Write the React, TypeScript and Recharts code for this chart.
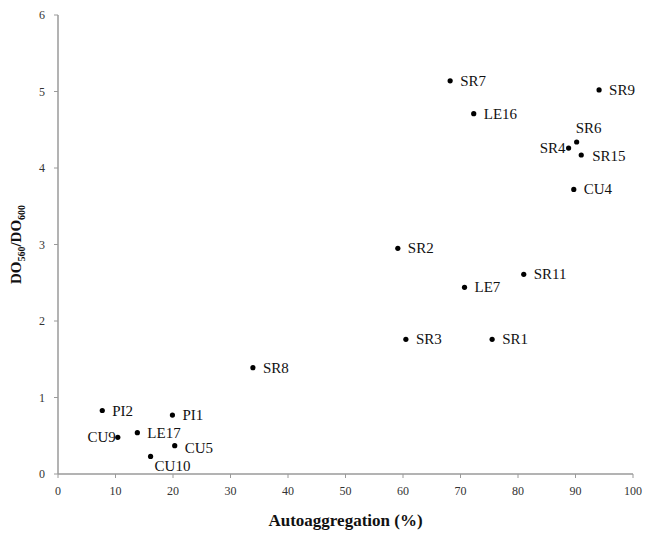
import { Label, LabelList, Scatter, ScatterChart, XAxis, YAxis } from 'recharts';

// isolates
const strains = ['SR7', 'SR9', 'LE16', 'SR6', 'SR4', 'SR15', 'CU4', 'SR2', 'SR11', 'LE7', 'SR3', 'SR1', 'SR8', 'PI2', 'PI1', 'CU9', 'LE17', 'CU5', 'CU10'];
const autoaggregation = [68.2, 94.1, 72.3, 90.2, 88.8, 91.0, 89.7, 59.1, 81.0, 70.7, 60.5, 75.5, 33.9, 7.7, 19.9, 10.4, 13.8, 20.3, 16.1];
const ratio = [5.14, 5.02, 4.71, 4.34, 4.26, 4.17, 3.72, 2.95, 2.61, 2.44, 1.76, 1.76, 1.39, 0.83, 0.77, 0.48, 0.54, 0.37, 0.23];

const xTicks = [0, 10, 20, 30, 40, 50, 60, 70, 80, 90, 100];
const yTicks = [0, 1, 2, 3, 4, 5, 6];

const data = strains.map((name, i) => ({ name, x: autoaggregation[i], y: ratio[i] }));

// where each label sits relative to its dot
const placement: Record<string, { dx: number; dy: number; anchor: 'start' | 'end' }> = {
  SR6: { dx: -1, dy: -14, anchor: 'start' },
  SR4: { dx: -3, dy: 0, anchor: 'end' },
  CU9: { dx: -2, dy: 0, anchor: 'end' },
  CU10: { dx: 4, dy: 10, anchor: 'start' },
  CU5: { dx: 10, dy: 2, anchor: 'start' },
  SR15: { dx: 11, dy: 1, anchor: 'start' },
};

const serif = "'Liberation Serif', 'Times New Roman', 'DejaVu Serif', serif";

function Dot({ cx, cy }: { cx?: number; cy?: number }) {
  if (cx == null || cy == null) return null;
  return <circle cx={cx} cy={cy} r={2.6} fill="#000" />;
}

function PointLabel(props: any) {
  const { x, y, width, height, value } = props;
  const cx = x + width / 2;
  const cy = y + height / 2;
  const p = placement[value] ?? { dx: 10, dy: 0, anchor: 'start' };
  return (
    <text x={cx + p.dx} y={cy + p.dy + 5} textAnchor={p.anchor} style={{ fontFamily: serif }} fontSize={15} fill="#111">
      {value}
    </text>
  );
}

function YTitle({ viewBox }: any) {
  const x = 21;
  const y = viewBox.y + viewBox.height / 2;
  return (
    <text
      x={x}
      y={y}
      transform={`rotate(-90 ${x} ${y})`}
      textAnchor="middle"
      style={{ fontFamily: serif }}
      fontWeight="bold"
      fill="#111"
      fontSize={15}
    >
      <tspan>DO</tspan>
      <tspan fontSize={10} dy={4}>560</tspan>
      <tspan dy={-4}>/DO</tspan>
      <tspan fontSize={10} dy={4}>600</tspan>
    </text>
  );
}

function XTitle({ viewBox }: any) {
  return (
    <text
      x={viewBox.x + viewBox.width / 2}
      y={526}
      textAnchor="middle"
      style={{ fontFamily: serif }}
      fontWeight="bold"
      fill="#111"
      fontSize={17}
    >
      Autoaggregation (%)
    </text>
  );
}

export default function App() {
  const tick = { fontSize: 12, fill: '#333', style: { fontFamily: serif } };
  return (
    <div style={{ position: 'absolute', left: 0, top: 0, background: '#fff', fontFamily: serif }}>
      <ScatterChart width={647} height={539} margin={{ top: 15, right: 14, bottom: 0, left: 0 }}>
        <XAxis
          type="number"
          dataKey="x"
          domain={[0, 100]}
          ticks={xTicks}
          interval={0}
          height={65}
          tick={tick}
          tickSize={4}
          tickMargin={8}
          stroke="#9a9a9a"
          axisLine={{ stroke: '#9a9a9a', strokeWidth: 1.5 }}
        >
          <Label content={<XTitle />} />
        </XAxis>
        <YAxis
          type="number"
          dataKey="y"
          domain={[0, 6]}
          ticks={yTicks}
          interval={0}
          width={58}
          tick={tick}
          tickSize={4}
          tickMargin={9}
          stroke="#9a9a9a"
          axisLine={{ stroke: '#9a9a9a', strokeWidth: 1.5 }}
        >
          <Label content={<YTitle />} />
        </YAxis>
        <Scatter data={data} shape={<Dot />} isAnimationActive={false}>
          <LabelList dataKey="name" content={<PointLabel />} />
        </Scatter>
      </ScatterChart>
    </div>
  );
}
